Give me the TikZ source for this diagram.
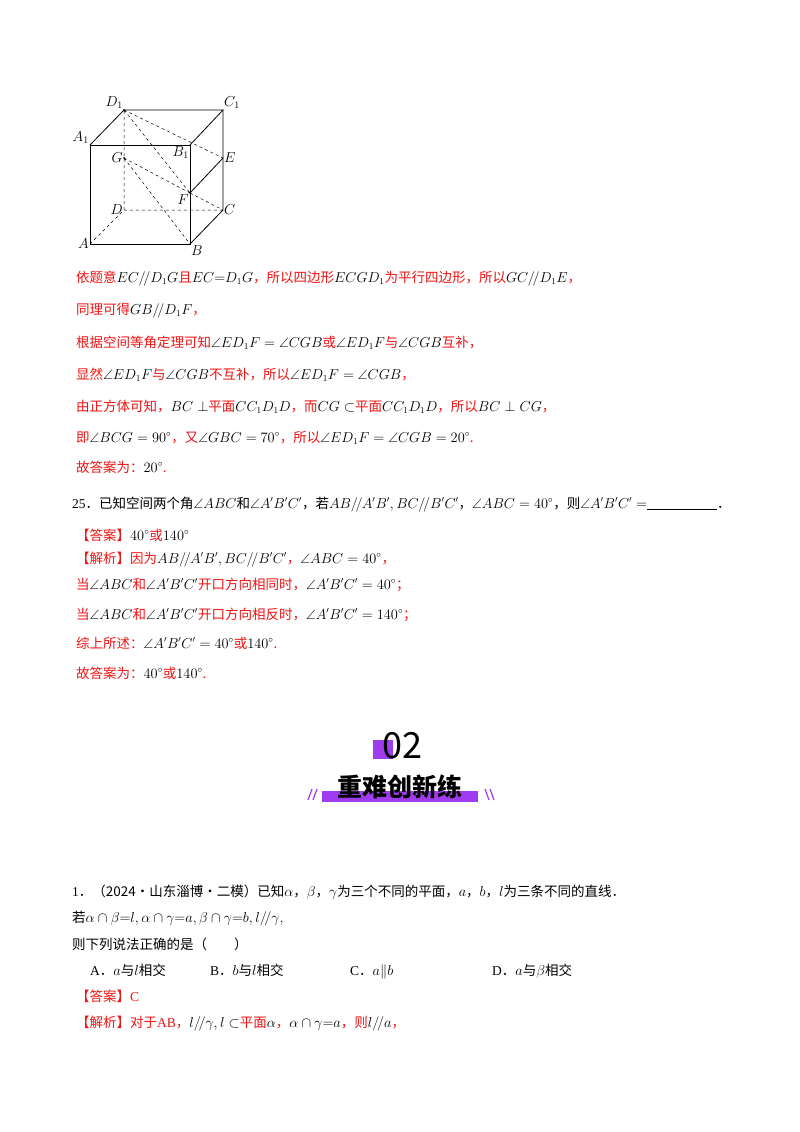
\documentclass[tikz,border=0pt]{standalone}
\usepackage[no-math]{fontspec}
\setmainfont{Noto Sans CJK SC}
\newfontfamily\tm{Liberation Serif}
\usepackage{amssymb}
\definecolor{myred}{RGB}{240,20,20}
\definecolor{mypurple}{RGB}{160,60,240}
\newcommand\R[1]{\textcolor{myred}{#1}}
\begin{document}
\begin{tikzpicture}[x=1pt,y=-1pt,
  ln/.style={anchor=base west,inner sep=0pt,font=\fontsize{13.5}{16}\selectfont},
  lbl/.style={inner sep=1pt,font=\fontsize{14}{16}\selectfont\tm\itshape},
  ed/.style={line width=0.8pt},
  hid/.style={dashed,line width=0.5pt}]
\useasboundingbox[fill=white] (0,0) rectangle (800,1132);
% cube
\coordinate (A) at (90,244); \coordinate (B) at (190,244);
\coordinate (A1) at (90,145); \coordinate (B1) at (190,145);
\coordinate (D) at (124,210); \coordinate (C) at (223,210);
\coordinate (D1) at (124,110); \coordinate (C1) at (223,110);
\coordinate (E) at (223,158); \coordinate (F) at (190,193); \coordinate (G) at (124,158);
\draw[ed] (A)--(B)--(B1)--(A1)--cycle;
\draw[ed] (A1)--(D1)--(C1)--(B1);
\draw[ed] (C1)--(C)--(B);
\draw[ed] (E)--(F);
\draw[hid] (A)--(D)--(C) (D)--(D1) (D1)--(E) (D1)--(F) (G)--(F) (G)--(B) (F)--(C);
\foreach \p in {D1,G,F} \fill (\p) circle (1pt);
\node[lbl,anchor=east] at (A) {$A$};
\node[lbl,anchor=north west] at (B) {$B$};
\node[lbl,anchor=west] at (C) {$C$};
\node[lbl,anchor=east] at (D) {$D$};
\node[lbl,anchor=west] at (E) {$E$};
\node[lbl,anchor=north east] at (F) {$F$};
\node[lbl,anchor=east] at (G) {$G$};
\node[lbl,anchor=south east] at (D1) {$D_1$};
\node[lbl,anchor=south west] at (C1) {$C_1$};
\node[lbl,anchor=south east] at (A1) {$A_1$};
\node[lbl,anchor=north east] at (B1.south west) {$B_1$};
% solution text
\node[ln] (l1) at (76,282) {\R{依题意}$EC/\!/D_1G$\R{且}$EC{=}D_1G$\R{，所以四边形}$ECGD_1$\R{为平行四边形，所以}$GC/\!/D_1E$\R{，}};
\node[ln] (l2) at (76,314) {\R{同理可得}$GB/\!/D_1F$\R{，}};
\node[ln] (l3) at (76,347) {\R{根据空间等角定理可知}$\angle ED_1F=\angle CGB$\R{或}$\angle ED_1F$\R{与}$\angle CGB$\R{互补，}};
\node[ln] (l4) at (76,379) {\R{显然}$\angle ED_1F$\R{与}$\angle CGB$\R{不互补，所以}$\angle ED_1F=\angle CGB$\R{，}};
\node[ln] (l5) at (76,411) {\R{由正方体可知，}$BC\perp$\R{平面}$CC_1D_1D$\R{，而}$CG\subset$\R{平面}$CC_1D_1D$\R{，所以}$BC\perp CG$\R{，}};
\node[ln] (l6) at (76,442) {\R{即}$\angle BCG=90^\circ$\R{，又}$\angle GBC=70^\circ$\R{，所以}$\angle ED_1F=\angle CGB=20^\circ$\R{.}};
\node[ln] (l7) at (76,472) {\R{故答案为：}$20^\circ$\R{.}};
\node[ln] (q25) at (72,508) {{\tm 25}．已知空间两个角$\angle ABC$和$\angle A'B'C'$，若$AB/\!/A'B',BC/\!/B'C'$，$\angle ABC=40^\circ$，则$\angle A'B'C'=$\rule[-1.5pt]{70pt}{0.8pt}．};
\node[ln] (a25) at (76,540) {\R{【答案】}$40^\circ$\R{或}$140^\circ$};
\node[ln] (j1) at (76,563) {\R{【解析】因为}$AB/\!/A'B',BC/\!/B'C'$\R{，}$\angle ABC=40^\circ$\R{，}};
\node[ln] (j2) at (76,589) {\R{当}$\angle ABC$\R{和}$\angle A'B'C'$\R{开口方向相同时，}$\angle A'B'C'=40^\circ$\R{；}};
\node[ln] (j3) at (76,619) {\R{当}$\angle ABC$\R{和}$\angle A'B'C'$\R{开口方向相反时，}$\angle A'B'C'=140^\circ$\R{；}};
\node[ln] (j4) at (76,648) {\R{综上所述：}$\angle A'B'C'=40^\circ$\R{或}$140^\circ$\R{.}};
\node[ln] (j5) at (76,678) {\R{故答案为：}$40^\circ$\R{或}$140^\circ$\R{.}};
% banner
\fill[mypurple] (373,740) rectangle (393,759);
\node[inner sep=0pt,font=\fontsize{36}{36}\selectfont] (n02) at (402,746) {02};
\fill[mypurple] (322,791) rectangle (478,802);
\node[inner sep=0pt,font=\fontsize{25}{25}\selectfont\bfseries] (ttl) at (400,787) {重难创新练};
\foreach \x in {308,313} \draw[mypurple,line width=1.2pt] (\x,800)--(\x+4,789);
\foreach \x in {485,490} \draw[mypurple,line width=1.2pt] (\x,789)--(\x+4,800);
% question 1
\node[ln] (q1) at (72,896) {{\tm 1}．（2024·山东淄博·二模）已知$\alpha$，$\beta$，$\gamma$为三个不同的平面，$a$，$b$，$l$为三条不同的直线．};
\node[ln] (q1b) at (72,922) {若$\alpha\cap\beta{=}l,\alpha\cap\gamma{=}a,\beta\cap\gamma{=}b,l/\!/\gamma,$};
\node[ln] (q1c) at (72,949) {则下列说法正确的是（\qquad）};
\node[ln] (oA) at (90,975) {{\tm A}．$a$与$l$相交};
\node[ln] (oB) at (210,975) {{\tm B}．$b$与$l$相交};
\node[ln] (oC) at (350,975) {{\tm C}．$a\| b$};
\node[ln] (oD) at (492,975) {{\tm D}．$a$与$\beta$相交};
\node[ln] (a1) at (76,1001) {\R{【答案】{\tm C}}};
\node[ln] (s1) at (76,1027) {\R{【解析】对于{\tm AB}，}$l/\!/\gamma,l\subset$\R{平面}$\alpha$\R{，}$\alpha\cap\gamma{=}a$\R{，则}$l/\!/a$\R{，}};
\end{tikzpicture}
\end{document}
